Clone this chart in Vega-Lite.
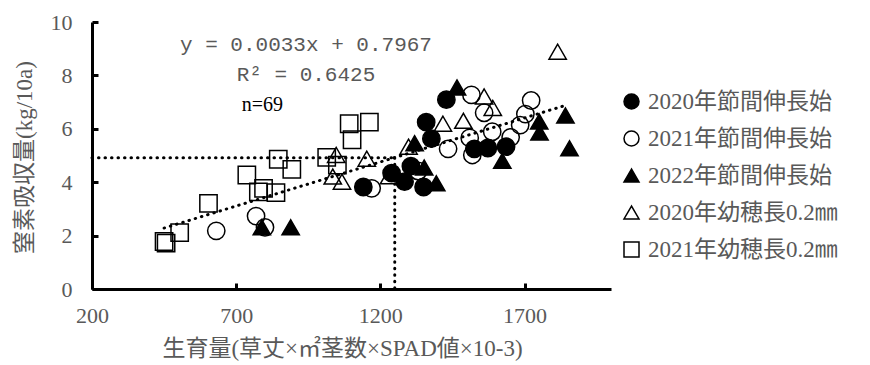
{
  "$schema": "https://vega.github.io/schema/vega-lite/v6.json",
  "width": 519,
  "height": 267,
  "autosize": "none",
  "padding": {"left": 92, "top": 22, "right": 259, "bottom": 76},
  "background": "white",
  "config": {
    "view": {"stroke": null},
    "font": "Liberation Serif, Noto Sans CJK JP",
    "axis": {
      "grid": false,
      "domainColor": "black",
      "domainWidth": 3,
      "tickColor": "black",
      "tickWidth": 3,
      "tickSize": -6,
      "labelFont": "Liberation Serif, Noto Sans CJK JP",
      "labelFontSize": 22,
      "labelColor": "#595959",
      "labelFlush": false,
      "labelOverlap": false,
      "format": "d",
      "titleFont": "Liberation Serif, Noto Sans CJK JP",
      "titleFontSize": 23,
      "titleFontWeight": "normal",
      "titleColor": "#595959"
    },
    "axisX": {"labelPadding": 22, "titleX": 250, "titleY": 59, "titleBaseline": "middle", "titleAlign": "center"},
    "axisY": {"labelPadding": 26, "titleX": -68, "titleY": 135, "titleAngle": -90, "titleBaseline": "middle", "titleAlign": "center"},
    "legend": {
      "padding": 0,
      "labelFont": "Liberation Serif, Noto Sans CJK JP",
      "labelFontSize": 23,
      "labelColor": "#595959",
      "labelLimit": 400,
      "labelOffset": 5,
      "rowPadding": 13,
      "symbolSize": 225,
      "symbolStrokeWidth": 1.5
    }
  },
  "datasets": {
    "pts": [
      {"x": 1141, "y": 3.82, "s": "2020年節間伸長始"},
      {"x": 1239, "y": 4.34, "s": "2020年節間伸長始"},
      {"x": 1284, "y": 4.02, "s": "2020年節間伸長始"},
      {"x": 1306, "y": 4.6, "s": "2020年節間伸長始"},
      {"x": 1350, "y": 3.82, "s": "2020年節間伸長始"},
      {"x": 1359, "y": 6.25, "s": "2020年節間伸長始"},
      {"x": 1377, "y": 5.63, "s": "2020年節間伸長始"},
      {"x": 1429, "y": 7.09, "s": "2020年節間伸長始"},
      {"x": 1526, "y": 5.25, "s": "2020年節間伸長始"},
      {"x": 1573, "y": 5.28, "s": "2020年節間伸長始"},
      {"x": 1636, "y": 5.33, "s": "2020年節間伸長始"},
      {"x": 631, "y": 2.18, "s": "2021年節間伸長始"},
      {"x": 769, "y": 2.73, "s": "2021年節間伸長始"},
      {"x": 800, "y": 2.31, "s": "2021年節間伸長始"},
      {"x": 1170, "y": 3.77, "s": "2021年節間伸長始"},
      {"x": 1331, "y": 4.42, "s": "2021年節間伸長始"},
      {"x": 1435, "y": 5.25, "s": "2021年節間伸長始"},
      {"x": 1510, "y": 5.66, "s": "2021年節間伸長始"},
      {"x": 1519, "y": 5.02, "s": "2021年節間伸長始"},
      {"x": 1516, "y": 7.27, "s": "2021年節間伸長始"},
      {"x": 1560, "y": 6.6, "s": "2021年節間伸長始"},
      {"x": 1588, "y": 5.89, "s": "2021年節間伸長始"},
      {"x": 1652, "y": 5.68, "s": "2021年節間伸長始"},
      {"x": 1685, "y": 6.14, "s": "2021年節間伸長始"},
      {"x": 1703, "y": 6.55, "s": "2021年節間伸長始"},
      {"x": 1723, "y": 7.06, "s": "2021年節間伸長始"},
      {"x": 789, "y": 2.31, "s": "2022年節間伸長始"},
      {"x": 889, "y": 2.31, "s": "2022年節間伸長始"},
      {"x": 1319, "y": 5.46, "s": "2022年節間伸長始"},
      {"x": 1352, "y": 4.55, "s": "2022年節間伸長始"},
      {"x": 1394, "y": 3.96, "s": "2022年節間伸長始"},
      {"x": 1466, "y": 7.55, "s": "2022年節間伸長始"},
      {"x": 1623, "y": 4.8, "s": "2022年節間伸長始"},
      {"x": 1751, "y": 6.27, "s": "2022年節間伸長始"},
      {"x": 1752, "y": 5.86, "s": "2022年節間伸長始"},
      {"x": 1842, "y": 6.5, "s": "2022年節間伸長始"},
      {"x": 1856, "y": 5.27, "s": "2022年節間伸長始"},
      {"x": 1035, "y": 4.21, "s": "2020年幼穂長0.2㎜"},
      {"x": 1047, "y": 5.02, "s": "2020年幼穂長0.2㎜"},
      {"x": 1067, "y": 4.02, "s": "2020年幼穂長0.2㎜"},
      {"x": 1153, "y": 4.88, "s": "2020年幼穂長0.2㎜"},
      {"x": 1230, "y": 4.22, "s": "2020年幼穂長0.2㎜"},
      {"x": 1298, "y": 5.33, "s": "2020年幼穂長0.2㎜"},
      {"x": 1417, "y": 6.19, "s": "2020年幼穂長0.2㎜"},
      {"x": 1488, "y": 6.3, "s": "2020年幼穂長0.2㎜"},
      {"x": 1560, "y": 7.21, "s": "2020年幼穂長0.2㎜"},
      {"x": 1590, "y": 6.78, "s": "2020年幼穂長0.2㎜"},
      {"x": 1815, "y": 8.89, "s": "2020年幼穂長0.2㎜"},
      {"x": 450, "y": 1.78, "s": "2021年幼穂長0.2㎜"},
      {"x": 457, "y": 1.72, "s": "2021年幼穂長0.2㎜"},
      {"x": 504, "y": 2.11, "s": "2021年幼穂長0.2㎜"},
      {"x": 604, "y": 3.21, "s": "2021年幼穂長0.2㎜"},
      {"x": 737, "y": 4.27, "s": "2021年幼穂長0.2㎜"},
      {"x": 777, "y": 3.64, "s": "2021年幼穂長0.2㎜"},
      {"x": 795, "y": 3.77, "s": "2021年幼穂長0.2㎜"},
      {"x": 838, "y": 3.61, "s": "2021年幼穂長0.2㎜"},
      {"x": 846, "y": 4.86, "s": "2021年幼穂長0.2㎜"},
      {"x": 893, "y": 4.48, "s": "2021年幼穂長0.2㎜"},
      {"x": 1014, "y": 4.93, "s": "2021年幼穂長0.2㎜"},
      {"x": 1051, "y": 4.64, "s": "2021年幼穂長0.2㎜"},
      {"x": 1092, "y": 6.19, "s": "2021年幼穂長0.2㎜"},
      {"x": 1102, "y": 5.59, "s": "2021年幼穂長0.2㎜"},
      {"x": 1162, "y": 6.25, "s": "2021年幼穂長0.2㎜"}
    ],
    "lines": [
      {"lx": 450, "ly": 2.282, "g": "trend"},
      {"lx": 1850, "ly": 6.902, "g": "trend"},
      {"lx": 200, "ly": 4.92, "g": "h"},
      {"lx": 1250, "ly": 4.92, "g": "h"},
      {"lx": 1250, "ly": 4.92, "g": "v"},
      {"lx": 1250, "ly": 0, "g": "v"}
    ],
    "eq": [
      {"tx": 942, "ty": 9.14, "t": "y = 0.0033x + 0.7967"},
      {"tx": 942, "ty": 8.01, "t": "R² = 0.6425"}
    ],
    "nn": [
      {"tx": 791, "ty": 6.89, "t": "n=69"}
    ]
  },
  "layer": [
    {
      "data": {"name": "lines"},
      "mark": {"type": "line", "color": "black", "strokeWidth": 3, "strokeDash": [0.5, 6], "strokeCap": "round"},
      "encoding": {
        "x": {"field": "lx", "type": "quantitative", "scale": {"domain": [200, 2000], "nice": false, "zero": false}, "axis": {"values": [200, 700, 1200, 1700], "title": "生育量(草丈×㎡茎数×SPAD値×10-3)"}},
        "y": {"field": "ly", "type": "quantitative", "scale": {"domain": [0, 10], "nice": false}, "axis": {"values": [0, 2, 4, 6, 8, 10], "title": "窒素吸収量(kg/10a)"}},
        "detail": {"field": "g"}
      }
    },
    {
      "data": {"name": "pts"},
      "mark": {"type": "point", "filled": true, "opacity": 1, "strokeWidth": 1.5, "size": 300},
      "encoding": {
        "x": {"field": "x", "type": "quantitative"},
        "y": {"field": "y", "type": "quantitative"},
        "shape": {"field": "s", "type": "nominal", "title": null,
          "legend": {"orient": "none", "legendX": 528, "legendY": 68, "title": null},
          "scale": {"domain": ["2020年節間伸長始", "2021年節間伸長始", "2022年節間伸長始", "2020年幼穂長0.2㎜", "2021年幼穂長0.2㎜"],
                    "range": ["circle", "circle", "triangle-up", "triangle-up", "square"]}},
        "fill": {"field": "s", "type": "nominal", "title": null,
          "legend": {"orient": "none", "legendX": 528, "legendY": 68, "title": null},
          "scale": {"domain": ["2020年節間伸長始", "2021年節間伸長始", "2022年節間伸長始", "2020年幼穂長0.2㎜", "2021年幼穂長0.2㎜"],
                    "range": ["black", "transparent", "black", "transparent", "transparent"]}},
        "stroke": {"field": "s", "type": "nominal", "title": null,
          "legend": {"orient": "none", "legendX": 528, "legendY": 68, "title": null},
          "scale": {"domain": ["2020年節間伸長始", "2021年節間伸長始", "2022年節間伸長始", "2020年幼穂長0.2㎜", "2021年幼穂長0.2㎜"],
                    "range": ["black", "black", "black", "black", "black"]}}
      }
    },
    {
      "data": {"name": "eq"},
      "mark": {"type": "text", "font": "Liberation Mono", "fontSize": 21, "color": "#595959", "align": "center", "baseline": "middle"},
      "encoding": {
        "x": {"field": "tx", "type": "quantitative"},
        "y": {"field": "ty", "type": "quantitative"},
        "text": {"field": "t"}
      }
    },
    {
      "data": {"name": "nn"},
      "mark": {"type": "text", "font": "Liberation Serif", "fontSize": 20, "color": "black", "align": "center", "baseline": "middle"},
      "encoding": {
        "x": {"field": "tx", "type": "quantitative"},
        "y": {"field": "ty", "type": "quantitative"},
        "text": {"field": "t"}
      }
    }
  ]
}
